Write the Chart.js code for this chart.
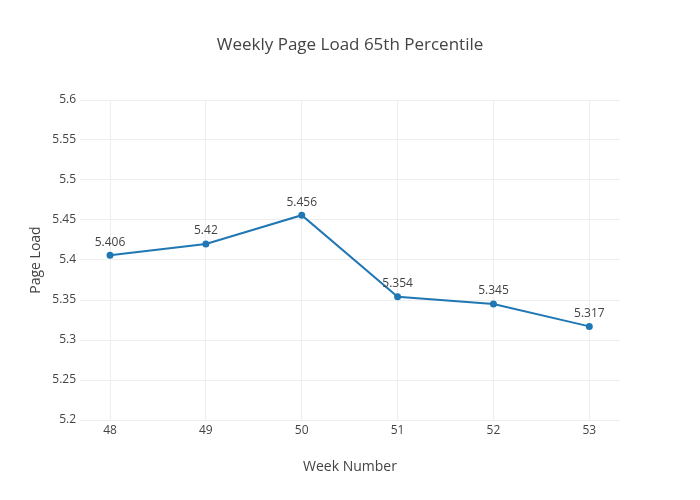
<!DOCTYPE html>
<html>
<head>
<meta charset="utf-8">
<script src="https://cdn.jsdelivr.net/npm/chart.js@4"></script>
<style>
  body { margin: 0; background: #fff; }
  #wrap { width: 700px; height: 500px; }
</style>
</head>
<body>
<div id="wrap"><canvas id="chart" width="700" height="500"></canvas></div>
<script>
// chart data
const weeks = [48, 49, 50, 51, 52, 53];
const pageLoad = [5.406, 5.42, 5.456, 5.354, 5.345, 5.317];
const yTicks = [5.2, 5.25, 5.3, 5.35, 5.4, 5.45, 5.5, 5.55, 5.6];
const chartTitle = 'Weekly Page Load 65th Percentile';

const FONT = '"Open Sans", "DejaVu Sans", sans-serif';
const TXT = '#444';

// labels above each point + title centred on the whole page
const pointLabels = {
  id: 'pointLabels',
  afterDatasetsDraw(chart) {
    const ctx = chart.ctx;
    const meta = chart.getDatasetMeta(0);
    ctx.save();
    ctx.font = '12px ' + FONT;
    ctx.fillStyle = TXT;
    ctx.textAlign = 'center';
    ctx.textBaseline = 'middle';
    meta.data.forEach((pt, i) => {
      ctx.fillText(String(pageLoad[i]), pt.x, pt.y - 13);
    });
    ctx.font = '17px ' + FONT;
    ctx.fillText(chartTitle, chart.width / 2, 45);
    ctx.restore();
  }
};

new Chart(document.getElementById('chart').getContext('2d'), {
  type: 'line',
  data: {
    datasets: [{
      data: weeks.map((w, i) => ({ x: w, y: pageLoad[i] })),
      borderColor: '#1f77b4',
      backgroundColor: '#1f77b4',
      borderWidth: 2,
      pointRadius: 2.5,
      pointHoverRadius: 2.5,
      tension: 0
    }]
  },
  options: {
    responsive: false,
    animation: false,
    layout: { padding: { top: 100, left: 0, right: 80, bottom: 0 } },
    plugins: {
      legend: { display: false },
      tooltip: { enabled: false },
      title: { display: false }
    },
    scales: {
      x: {
        type: 'linear',
        min: 47.687,
        max: 53.32,
        afterBuildTicks: (s) => { s.ticks = weeks.map(v => ({ value: v })); },
        afterFit: (s) => { s.height = 80; },
        grid: { color: '#eee', drawTicks: false },
        border: { display: false },
        ticks: { color: TXT, font: { family: FONT, size: 12 }, padding: 3 },
        title: {
          display: true,
          text: 'Week Number',
          color: TXT,
          font: { family: FONT, size: 14 },
          padding: { top: 0, bottom: 25 }
        }
      },
      y: {
        min: 5.2,
        max: 5.6,
        afterBuildTicks: (s) => { s.ticks = yTicks.map(v => ({ value: v })); },
        afterFit: (s) => { s.width = 80; },
        grid: { color: '#eee', drawTicks: false },
        border: { display: false },
        ticks: {
          color: TXT,
          font: { family: FONT, size: 12 },
          padding: 4,
          callback: (v) => String(parseFloat(v.toFixed(2)))
        },
        title: {
          display: true,
          text: 'Page Load',
          color: TXT,
          font: { family: FONT, size: 14 },
          padding: { top: 28, bottom: 0 }
        }
      }
    }
  },
  plugins: [pointLabels]
});
</script>
</body>
</html>
